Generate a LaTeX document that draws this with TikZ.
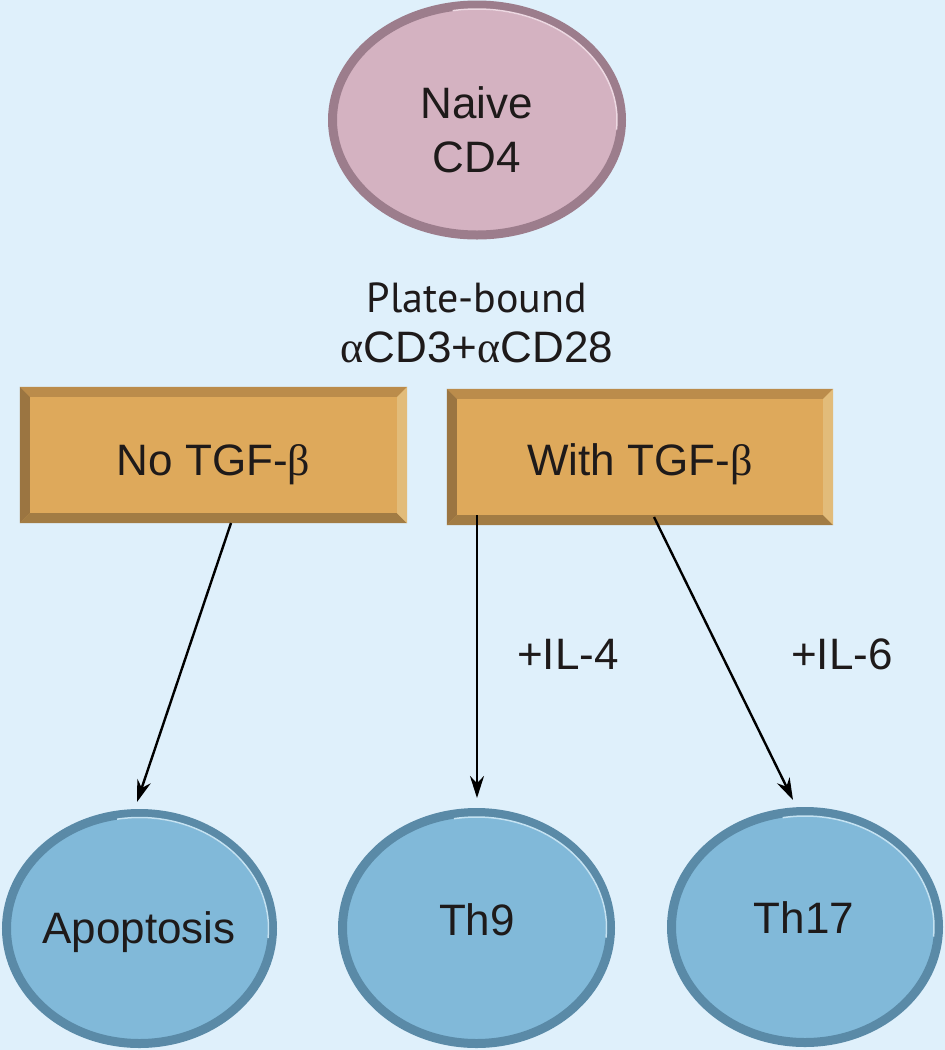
\documentclass[tikz,border=0pt]{standalone}
\usepackage{fontspec}
\setmainfont{Liberation Sans}
\newfontfamily\grk{Liberation Serif}
\newfontfamily\myr{PT Sans}
\usetikzlibrary{arrows.meta,shapes.geometric}
\definecolor{bgc}{HTML}{DFF0FB}
\definecolor{pinkfill}{HTML}{D4B2C1}
\definecolor{pinkedge}{HTML}{9C7D8C}
\definecolor{pinkhl}{HTML}{EDD8E2}
\definecolor{bluefill}{HTML}{81B9D9}
\definecolor{blueedge}{HTML}{5A8AA7}
\definecolor{bluehl}{HTML}{C4E2F2}
\definecolor{boxfill}{HTML}{DEA95B}
\definecolor{bevtop}{HTML}{BB8C4B}
\definecolor{bevleft}{HTML}{9B7541}
\definecolor{bevbot}{HTML}{A27C44}
\definecolor{bevright}{HTML}{E2BC7A}
\definecolor{txt}{HTML}{1E1A1A}
\tikzset{
  pinkcell/.style={ellipse, draw=pinkedge, fill=pinkfill, line width=9pt, inner sep=0pt},
  bluecell/.style={ellipse, draw=blueedge, fill=bluefill, line width=9pt, inner sep=0pt},
  condbox/.style={rectangle, fill=boxfill, inner sep=0pt, minimum width=386pt, minimum height=136pt},
  bigtxt/.style={text=txt, font=\fontsize{44}{52}\selectfont, inner sep=0pt},
  platetxt/.style={text=txt, font=\myr\fontsize{42}{48}\selectfont, inner sep=0pt},
  arr/.style={line width=2.4pt, -{Stealth[length=22pt,width=14pt]}},
}
\newcommand\bevelize[1]{%
  \fill[bevtop] (#1.north west) -- (#1.north east) -- ([shift={(-10,10)}]#1.north east) -- ([shift={(10,10)}]#1.north west) -- cycle;
  \fill[bevleft] (#1.north west) -- ([shift={(10,10)}]#1.north west) -- ([shift={(10,-10)}]#1.south west) -- (#1.south west) -- cycle;
  \fill[bevbot] (#1.south west) -- ([shift={(10,-10)}]#1.south west) -- ([shift={(-10,-10)}]#1.south east) -- (#1.south east) -- cycle;
  \fill[bevright] (#1.north east) -- (#1.south east) -- ([shift={(-10,-10)}]#1.south east) -- ([shift={(-10,10)}]#1.north east) -- cycle;
}
\begin{document}
\begin{tikzpicture}[x=1pt,y=-1pt]
\fill[bgc] (0,0) rectangle (945,1050);
\useasboundingbox (0,0) rectangle (945,1050);

% top cell
\node[pinkcell, minimum width=289pt, minimum height=230pt] (naive) at (477,120) {};
\draw[pinkhl, line width=1.5pt] (477,120) ++(-100:140 and 111) arc[start angle=-100, end angle=5, x radius=140, y radius=111];
\node[bigtxt, anchor=base] (naivet1) at (477,118) {Naive};
\node[bigtxt, anchor=base] (naivet2) at (477,172) {CD4};

% stimulus label
\node[platetxt, anchor=base] (plate1) at (477,312) {Plate-bound};
\node[bigtxt, anchor=base] (plate2) at (477,362) {{\grk α}CD3+{\grk α}CD28};

% condition boxes
\node[condbox, minimum width=387pt] (notgf) at (213.5,455) {};
\bevelize{notgf}
\node[condbox] (withtgf) at (640,457) {};
\bevelize{withtgf}
\node[bigtxt, anchor=base] (notgft) at (213.5,475) {No TGF-{\grk β}};
\node[bigtxt, anchor=base] (withtgft) at (640,475) {With TGF-{\grk β}};

% bottom cells
\node[bluecell, minimum width=266pt, minimum height=230pt] (apop) at (139.5,928.5) {};
\node[bluecell, minimum width=268pt, minimum height=231pt] (th9) at (476.5,928) {};
\node[bluecell, minimum width=267pt, minimum height=231pt] (th17) at (805,927) {};
\draw[bluehl, line width=1.5pt] (139.5,928.5) ++(-100:129 and 111) arc[start angle=-100, end angle=5, x radius=129, y radius=111];
\draw[bluehl, line width=1.5pt] (476.5,928) ++(-100:130 and 111) arc[start angle=-100, end angle=5, x radius=130, y radius=111];
\draw[bluehl, line width=1.5pt] (805,927) ++(-100:129 and 111) arc[start angle=-100, end angle=5, x radius=129, y radius=111];
\node[bigtxt, anchor=base] (apopt) at (139,943) {Apoptosis};
\node[bigtxt, anchor=base] (th9t) at (477,935) {Th9};
\node[bigtxt, anchor=base] (th17t) at (804,933) {Th17};

% connectors
\coordinate (s1) at (231,523);
\coordinate (s2) at (477,515);
\coordinate (s3) at (654,517);
\coordinate (e1) at (137,802);
\coordinate (e2) at (477,798);
\coordinate (e3) at (793,800);
\draw[arr] (s1) -- (e1);
\draw[arr] (s2) -- (e2);
\draw[arr] (s3) -- (e3);
\node[bigtxt, anchor=base] (il4) at (568,669) {+IL-4};
\node[bigtxt, anchor=base] (il6) at (842,669) {+IL-6};
\end{tikzpicture}
\end{document}
